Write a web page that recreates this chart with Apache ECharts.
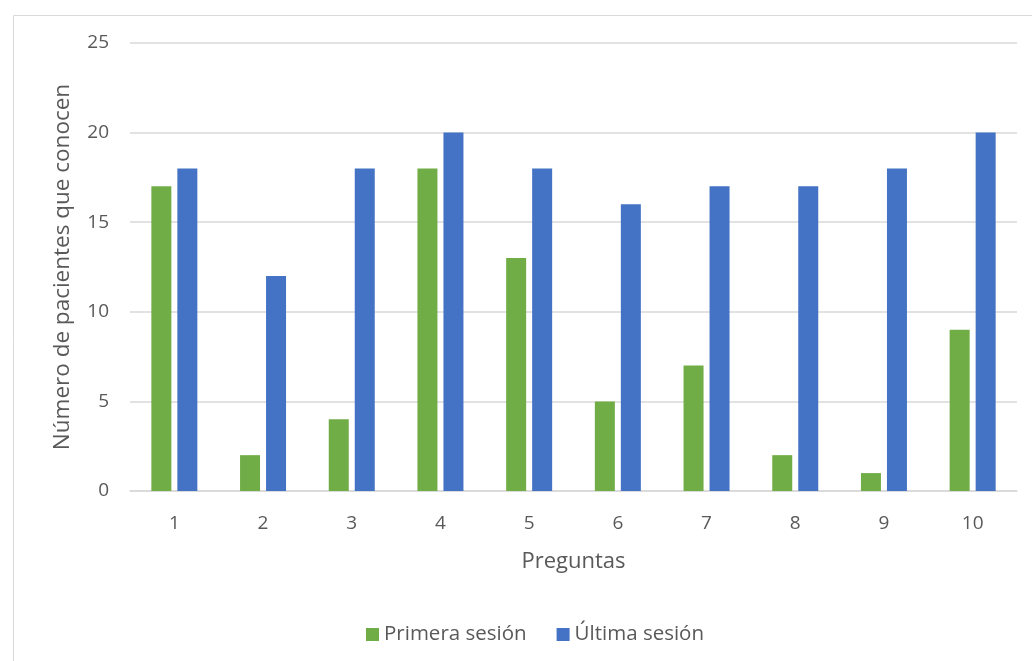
<!DOCTYPE html>
<html><head><meta charset="utf-8">
<script src="https://cdn.jsdelivr.net/npm/echarts@6/dist/echarts.min.js"></script>
<style>html,body{margin:0;padding:0;background:#fff}#c{width:1032px;height:661px}</style>
</head><body><div id="c"></div>
<script>
const categories = ['1','2','3','4','5','6','7','8','9','10'];
const primeraSesion = [17, 2, 4, 18, 13, 5, 7, 2, 1, 9];
const ultimaSesion = [18, 12, 18, 20, 18, 16, 17, 17, 18, 20];
const seriesNames = ['Primera sesión', 'Última sesión'];
const yTicks = { min: 0, max: 25, interval: 5 };

const FONT = '"Open Sans", "Noto Sans", sans-serif';
const TXT = '#595959';
const chart = echarts.init(document.getElementById('c'));
chart.setOption({
  animation: false,
  textStyle: { fontFamily: FONT },
  graphic: [{
    type: 'rect', left: 11, top: 13, silent: true,
    shape: { width: 1100, height: 700 },
    style: { fill: 'none', stroke: '#D9D9D9', lineWidth: 1 }
  }],
  grid: { left: 130, right: 15, top: 43, bottom: 170 },
  legend: {
    top: 619, left: 361, itemWidth: 13, itemHeight: 13, itemGap: 30,
    icon: 'rect',
    textStyle: { color: TXT, fontSize: 20.5, fontFamily: FONT },
    data: seriesNames
  },
  xAxis: {
    type: 'category', data: categories,
    name: 'Preguntas', nameLocation: 'middle', nameGap: 60,
    nameTextStyle: { color: TXT, fontSize: 22, fontFamily: FONT },
    axisLine: { lineStyle: { color: '#D9D9D9', width: 1.5 } },
    axisTick: { show: false },
    axisLabel: { color: TXT, fontSize: 19, margin: 23, fontFamily: FONT }
  },
  yAxis: {
    type: 'value', min: yTicks.min, max: yTicks.max, interval: yTicks.interval,
    name: 'Número de pacientes que conocen', nameLocation: 'middle', nameGap: 56,
    nameTextStyle: { color: TXT, fontSize: 22.5, fontFamily: FONT },
    axisLine: { show: false }, axisTick: { show: false },
    axisLabel: { color: TXT, fontSize: 19, margin: 21, fontFamily: FONT },
    splitLine: { lineStyle: { color: '#D9D9D9', width: 1.5 } }
  },
  series: [
    { name: seriesNames[0], type: 'bar', data: primeraSesion, barWidth: 20, barGap: '30%',
      itemStyle: { color: '#70AD47' } },
    { name: seriesNames[1], type: 'bar', data: ultimaSesion, barWidth: 20, barGap: '30%',
      itemStyle: { color: '#4472C4' } }
  ]
});
</script></body></html>
